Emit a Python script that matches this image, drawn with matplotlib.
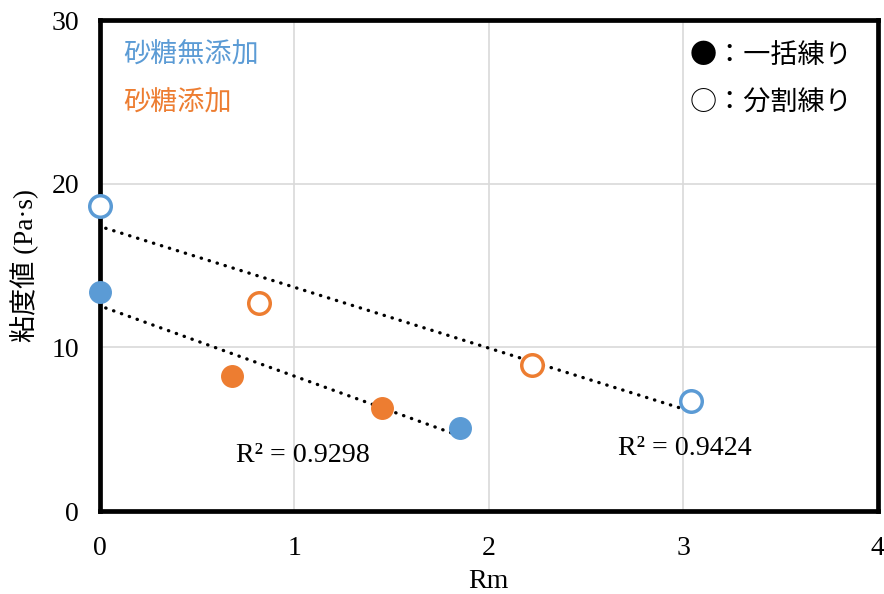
import numpy as np
import matplotlib
matplotlib.use("Agg")
import matplotlib.pyplot as plt

# data
blue = "#5B9BD5"
orange = "#ED7D31"

# 一括練り (filled)
x_plain_ikkatsu = [0.0, 1.85]
y_plain_ikkatsu = [13.4, 5.1]
x_sugar_ikkatsu = [0.68, 1.45]
y_sugar_ikkatsu = [8.25, 6.3]

# 分割練り (open)
x_plain_bunkatsu = [0.0, 3.04]
y_plain_bunkatsu = [18.65, 6.7]
x_sugar_bunkatsu = [0.82, 2.22]
y_sugar_bunkatsu = [12.7, 8.9]

r2_labels = ["R² = 0.9298", "R² = 0.9424"]
xticks = [0, 1, 2, 3, 4]
yticks = [0, 10, 20, 30]

serif = ["Liberation Serif", "Noto Sans CJK JP"]
cjk = ["Noto Sans CJK JP", "DejaVu Sans"]

fig = plt.figure(figsize=(8.84, 5.94), dpi=100)
ax = fig.add_axes([0.113, 0.1397, 0.88, 0.8266])

ax.set_xlim(0, 4)
ax.set_ylim(0, 30)
ax.set_xticks(xticks)
ax.set_yticks(yticks)
ax.grid(True, color="#d9d9d9", linewidth=1.2)
ax.set_axisbelow(True)
for s in ax.spines.values():
    s.set_linewidth(3.4)
    s.set_color("black")
    s.set_zorder(3)
ax.tick_params(length=0, labelsize=20)
ax.tick_params(axis="x", pad=18)
ax.tick_params(axis="y", pad=15)
for lab in ax.get_xticklabels() + ax.get_yticklabels():
    lab.set_family(serif)

# trend lines
ext = [x_plain_ikkatsu + x_sugar_ikkatsu, x_plain_bunkatsu + x_sugar_bunkatsu]
eyt = [y_plain_ikkatsu + y_sugar_ikkatsu, y_plain_bunkatsu + y_sugar_bunkatsu]
for xs, ys in zip(ext, eyt):
    k, b = np.polyfit(xs, ys, 1)
    xx = np.array([min(xs) + 0.03, max(xs)])
    ax.plot(xx, k * xx + b, color="black", linewidth=2.4,
            linestyle=(0, (0.1, 2.4)), dash_capstyle="round", zorder=4)

ms_fill = 15.5
ms_open = 15.5
ax.plot(x_plain_ikkatsu, y_plain_ikkatsu, "o", ms=ms_fill, color=blue,
        mec=blue, clip_on=False, zorder=5)
ax.plot(x_sugar_ikkatsu, y_sugar_ikkatsu, "o", ms=ms_fill, color=orange,
        mec=orange, clip_on=False, zorder=5)
ax.plot(x_plain_bunkatsu, y_plain_bunkatsu, "o", ms=ms_open, mfc="white",
        mec=blue, mew=2.5, clip_on=False, zorder=5)
ax.plot(x_sugar_bunkatsu, y_sugar_bunkatsu, "o", ms=ms_open, mfc="white",
        mec=orange, mew=2.5, clip_on=False, zorder=5)

ax.text(1.043, 3.42, r2_labels[0], family=serif, fontsize=20.2,
        ha="center", va="center")
ax.text(3.006, 3.79, r2_labels[1], family=serif, fontsize=20.2,
        ha="center", va="center")

ax.text(0.12, 27.85, "砂糖無添加", family=cjk, fontsize=19.5, color=blue,
        va="center")
ax.text(0.12, 24.9, "砂糖添加", family=cjk, fontsize=19.5, color=orange,
        va="center")
ax.text(3.03, 27.85, "●：一括練り", family=cjk, fontsize=19.5, color="black",
        va="center")
ax.text(3.03, 24.9, "○：分割練り", family=cjk, fontsize=19.5, color="black",
        va="center")

ax.set_xlabel("Rm", family=serif, fontsize=20, labelpad=6)
ax.set_ylabel("粘度値 (Pa·s)", family=serif, fontsize=19.5, labelpad=9)

fig.savefig("out.png", dpi=100)
